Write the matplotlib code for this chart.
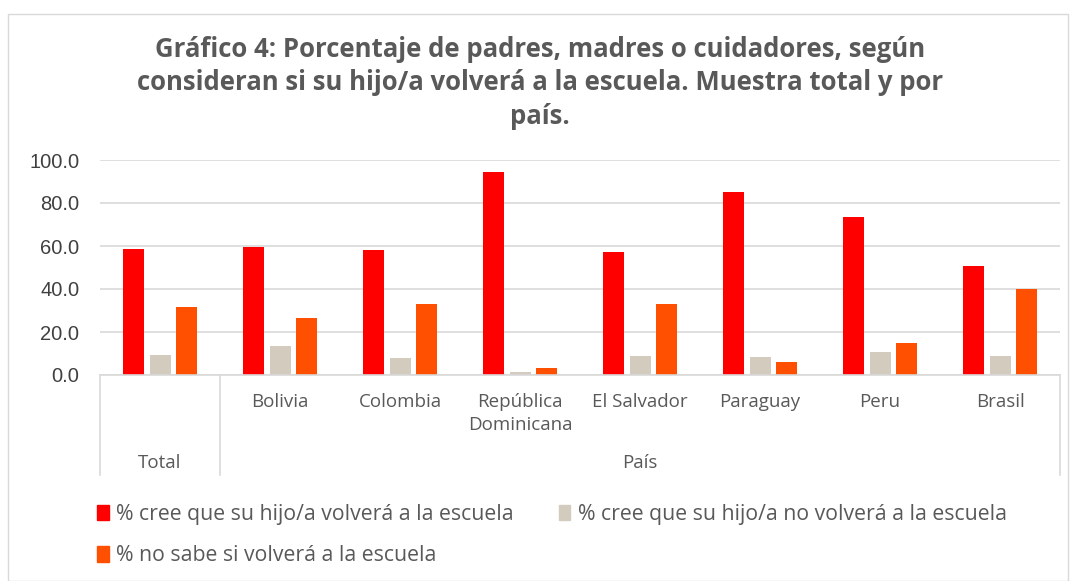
import numpy as np
import matplotlib
matplotlib.use('Agg')
import matplotlib.pyplot as plt
from matplotlib.patches import Patch, Rectangle

categories = ['Total', 'Bolivia', 'Colombia', 'República\nDominicana', 'El Salvador',
              'Paraguay', 'Peru', 'Brasil']
cree_vuelve = [58.5, 59.6, 58.2, 94.4, 57.1, 85.2, 73.4, 50.6]
cree_no_vuelve = [9.3, 13.4, 7.9, 1.6, 9.0, 8.2, 10.6, 8.9]
no_sabe = [31.5, 26.4, 33.1, 3.3, 33.1, 5.9, 14.9, 39.9]

series_names = ['% cree que su hijo/a volverá a la escuela',
                '% cree que su hijo/a no volverá a la escuela',
                '% no sabe si volverá a la escuela']
colors = ['#FF0000', '#D3CCBE', '#FF4F00']
yticks = [0, 20, 40, 60, 80, 100]

plt.rcParams['font.family'] = ['Open Sans', 'DejaVu Sans']
txt = '#595959'

fig = plt.figure(figsize=(10.73, 5.81), dpi=100)
ax = fig.add_axes([100 / 1073, 206 / 581, 960 / 1073, 215 / 581])

x = np.arange(len(categories))
w = 0.175
for i, (vals, c) in enumerate(zip([cree_vuelve, cree_no_vuelve, no_sabe], colors)):
    ax.bar(x + (i - 1) * 0.22, vals, w, color=c, zorder=3)

ax.set_xlim(-0.5, len(categories) - 0.5)
ax.set_ylim(0, 100)
ax.set_yticks(yticks)
ax.set_yticklabels([f'{v:.1f}' for v in yticks], fontsize=14.5, color='#404040',
                   family='Liberation Sans')
ax.yaxis.grid(True, color='#D9D9D9', linewidth=1.2, zorder=0)
for s in ax.spines.values():
    s.set_visible(False)
ax.tick_params(axis='y', length=0, pad=15)

labels = [''] + categories[1:]
ax.set_xticks(x)
ax.set_xticklabels(labels, fontsize=13.5, color=txt, va='top', linespacing=1.35)
ax.tick_params(axis='x', length=0, pad=13)

# hierarchical axis separators
tr = ax.get_xaxis_transform()
for xs in [-0.5, 0.5, len(categories) - 0.5]:
    ax.plot([xs, xs], [0, -0.465], color='#D9D9D9', lw=1.2, transform=tr, clip_on=False)
ax.plot([-0.5, len(categories) - 0.5], [0, 0], color='#D9D9D9', lw=1.2, transform=tr,
        clip_on=False, zorder=4)
ax.text(0, -0.41, 'Total', transform=tr, ha='center', va='center', fontsize=13.5, color=txt)
ax.text((1 + len(categories) - 1) / 2, -0.41, 'País', transform=tr, ha='center',
        va='center', fontsize=13.5, color=txt)

fig.text(0.5035, 0.938, 'Gráfico 4: Porcentaje de padres, madres o cuidadores, según\n'
         'consideran si su hijo/a volverá a la escuela. Muestra total y por\npaís.',
         ha='center', va='top', fontsize=18.5, fontweight='bold', color=txt, linespacing=1.3)

handles = [Patch(color=c) for c in colors]
order = [0, 2, 1]
fig.legend([handles[i] for i in order], [series_names[i] for i in order],
           loc='upper left', bbox_to_anchor=(78 / 1073, 1 - 485 / 581), ncol=2,
           frameon=False, fontsize=15.3, labelcolor=txt, handlelength=0.55,
           handleheight=0.75, handletextpad=0.35, columnspacing=2.1, labelspacing=0.95)

fig.patches.append(Rectangle((8 / 1073, 0), 1060 / 1073, 1 - 14 / 581, transform=fig.transFigure,
                             fill=False, edgecolor='#D9D9D9', lw=1))

fig.savefig('out.png', dpi=100)
